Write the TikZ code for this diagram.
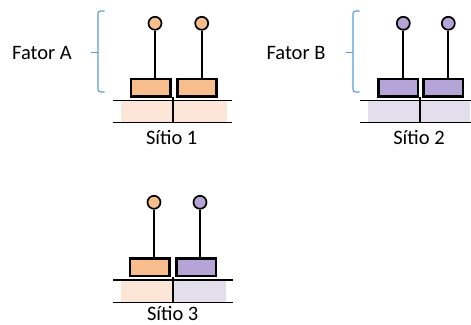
\documentclass[tikz,border=0pt]{standalone}
\usepackage{fontspec}
\setmainfont{Carlito}

\definecolor{fatA}{HTML}{F8BD8C}
\definecolor{fatAlt}{HTML}{FCE6D7}
\definecolor{fatB}{HTML}{B5A5D6}
\definecolor{fatBlt}{HTML}{E3DEEC}
\definecolor{chave}{HTML}{5B9BD5}

\tikzset{
  bloco/.style={draw, line width=2.6pt, minimum width=39.5pt, minimum height=17.5pt, inner sep=0pt},
  bola/.style={draw, circle, line width=1.7pt, minimum size=13pt, inner sep=0pt},
  haste/.style={line width=1.9pt},
  solo/.style={line width=1.2pt},
  rotulo/.style={font=\fontsize{20.5}{24}\selectfont, inner sep=0pt},
  chaveta/.style={draw=chave, line width=1.1pt, rounded corners=2.5pt},
}

\begin{document}
\begin{tikzpicture}[x=1pt,y=-1pt]
    \useasboundingbox (0,0) rectangle (471,324);

    % sitio 1 - fator A nos dois lados
    \fill[fatAlt] (121,100.7) rectangle (226.7,122.7);
    \draw[solo] (113.3,100.7) -- (232.3,100.7) (113.3,122.7) -- (232.3,122.7);
    \draw[haste] (172.7,97) -- (172.7,122.7);
    \node[bloco, fill=fatA] (b11) at (150.8,87.7) {};
    \node[bloco, fill=fatA] (b12) at (197,87.7) {};
    \node[bola, fill=fatA] (c11) at (155,23.3) {};
    \node[bola, fill=fatA] (c12) at (201.7,23.3) {};
    \draw[haste] (c11.south) -- (c11.south |- b11.north);
    \draw[haste] (c12.south) -- (c12.south |- b12.north);
    \draw[chaveta] (104.5,11) -- (98,11) -- (98,52.3) -- (98,92) -- (104.5,92);
    \draw[chaveta] (90.5,52.3) -- (98,52.3);
    \node[rotulo] (fa) at (42,53) {Fator A};
    \node[rotulo] (s1) at (171.7,137.5) {Sítio 1};

    % sitio 2 - fator B nos dois lados
    \fill[fatBlt] (367.7,100.7) rectangle (470,122.7);
    \draw[solo] (360,100.7) -- (471,100.7) (360,122.7) -- (471,122.7);
    \draw[haste] (420,97) -- (420,122.7);
    \node[bloco, fill=fatB] (b21) at (398.2,87.7) {};
    \node[bloco, fill=fatB] (b22) at (443.4,87.7) {};
    \node[bola, fill=fatB] (c21) at (403.3,23.3) {};
    \node[bola, fill=fatB] (c22) at (448.3,23.3) {};
    \draw[haste] (c21.south) -- (c21.south |- b21.north);
    \draw[haste] (c22.south) -- (c22.south |- b22.north);
    \draw[chaveta] (359.5,11) -- (353,11) -- (353,52.3) -- (353,92) -- (359.5,92);
    \draw[chaveta] (345.5,52.3) -- (353,52.3);
    \node[rotulo] (fb) at (296,53) {Fator B};
    \node[rotulo] (s2) at (419,137.5) {Sítio 2};

    % sitio 3 - um de cada
    \fill[fatAlt] (120.7,280) rectangle (172.7,302.7);
    \fill[fatBlt] (172.7,280) rectangle (226,302.7);
    \draw[solo] (113.3,280) -- (232.7,280) (113.3,302.7) -- (232.7,302.7);
    \draw[haste] (172.7,277) -- (172.7,302.7);
    \node[bloco, fill=fatA] (b31) at (149.7,267.3) {};
    \node[bloco, fill=fatB] (b32) at (196.2,267.3) {};
    \node[bola, fill=fatA] (c31) at (154,202.3) {};
    \node[bola, fill=fatB] (c32) at (200,202.3) {};
    \draw[haste] (c31.south) -- (c31.south |- b31.north);
    \draw[haste] (c32.south) -- (c32.south |- b32.north);
    \node[rotulo] (s3) at (172.7,313.3) {Sítio 3};
\end{tikzpicture}
\end{document}
